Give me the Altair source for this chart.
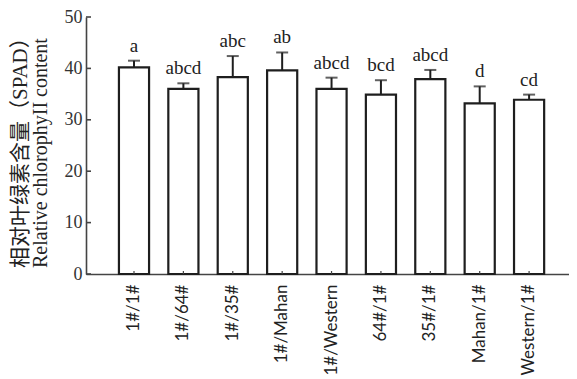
import altair as alt
import pandas as pd

categories = ["1#/1#", "1#/64#", "1#/35#", "1#/Mahan", "1#/Western",
              "64#/1#", "35#/1#", "Mahan/1#", "Western/1#"]
means = [40.2, 36.0, 38.3, 39.6, 36.0, 34.9, 37.9, 33.2, 33.9]
errors = [1.3, 1.1, 4.1, 3.5, 2.2, 2.8, 1.8, 3.3, 1.0]
letters = ["a", "abcd", "abc", "ab", "abcd", "bcd", "abcd", "d", "cd"]
y_ticks = [0, 10, 20, 30, 40, 50]
title_cn = "相对叶绿素含量（SPAD）"
title_en = "Relative chlorophyII content"

df = pd.DataFrame({
    "cat": categories,
    "mean": means,
    "upper": [m + e for m, e in zip(means, errors)],
    "letter": letters,
})
ticks_df = pd.DataFrame({"v": y_ticks})

W, H = 483, 257
INK = "#1e1e1e"
AX = "#444444"

xscale = alt.Scale(domain=categories, paddingInner=0.39, paddingOuter=0.585, align=0.57)
yscale = alt.Scale(domain=[0, 50], nice=False, zero=True)

x_enc = alt.X("cat:N", scale=xscale, sort=categories,
              axis=alt.Axis(title=None, labelAngle=-90, labelFont="Lato",
                            labelFontSize=17, labelColor="#222", labelPadding=10,
                            tickSize=0, domainColor=AX, domainWidth=1.6))

y_enc = alt.Y("mean:Q", scale=yscale,
              axis=alt.Axis(values=y_ticks, title=None,
                            labelFont="Liberation Serif", labelFontSize=18,
                            labelColor="#333", labelPadding=4, tickSize=0,
                            domainColor=AX, domainWidth=1.6, grid=False))

base = alt.Chart(df)

bars = base.mark_bar(fill="white", stroke=INK, strokeWidth=2.2).encode(x=x_enc, y=y_enc)

err = base.mark_rule(color=INK, strokeWidth=2).encode(
    x=alt.X("cat:N", scale=xscale, sort=categories),
    y=alt.Y("mean:Q", scale=yscale), y2="upper:Q")

cap = base.mark_tick(color=INK, thickness=2, size=12, orient="horizontal").encode(
    x=alt.X("cat:N", scale=xscale, sort=categories),
    y=alt.Y("upper:Q", scale=yscale))

txt = base.mark_text(font="Liberation Serif", fontSize=19, baseline="bottom",
                     dy=-5, color="#222").encode(
    x=alt.X("cat:N", scale=xscale, sort=categories),
    y=alt.Y("upper:Q", scale=yscale), text="letter:N")

yt = alt.Chart(ticks_df).mark_rule(color=AX, strokeWidth=1.6).encode(
    y=alt.Y("v:Q", scale=yscale), x=alt.value(0), x2=alt.value(5))

xt = base.mark_rule(color=AX, strokeWidth=1.2).encode(
    x=alt.X("cat:N", scale=xscale, sort=categories),
    y=alt.value(H), y2=alt.value(H - 3))

t_cn = alt.Chart(pd.DataFrame({"t": [title_cn]})).mark_text(
    font="Liberation Serif, Noto Sans CJK SC", fontSize=21, angle=270,
    align="left", baseline="middle", color="#222").encode(
    text="t:N", x=alt.value(-65), y=alt.value(251))

t_en = alt.Chart(pd.DataFrame({"t": [title_en]})).mark_text(
    font="Liberation Serif", fontSize=20, angle=270,
    align="left", baseline="middle", color="#222").encode(
    text="t:N", x=alt.value(-45), y=alt.value(251))

chart = alt.layer(bars, err, cap, txt, yt, xt, t_cn, t_en).properties(
    width=W, height=H,
    autosize=alt.AutoSizeParams(type="none"),
    padding={"left": 78, "top": 9, "right": 0, "bottom": 104},
    background="white",
).configure_view(stroke=None)

chart.save("out.html", embed_options={"renderer": "svg", "actions": False})
